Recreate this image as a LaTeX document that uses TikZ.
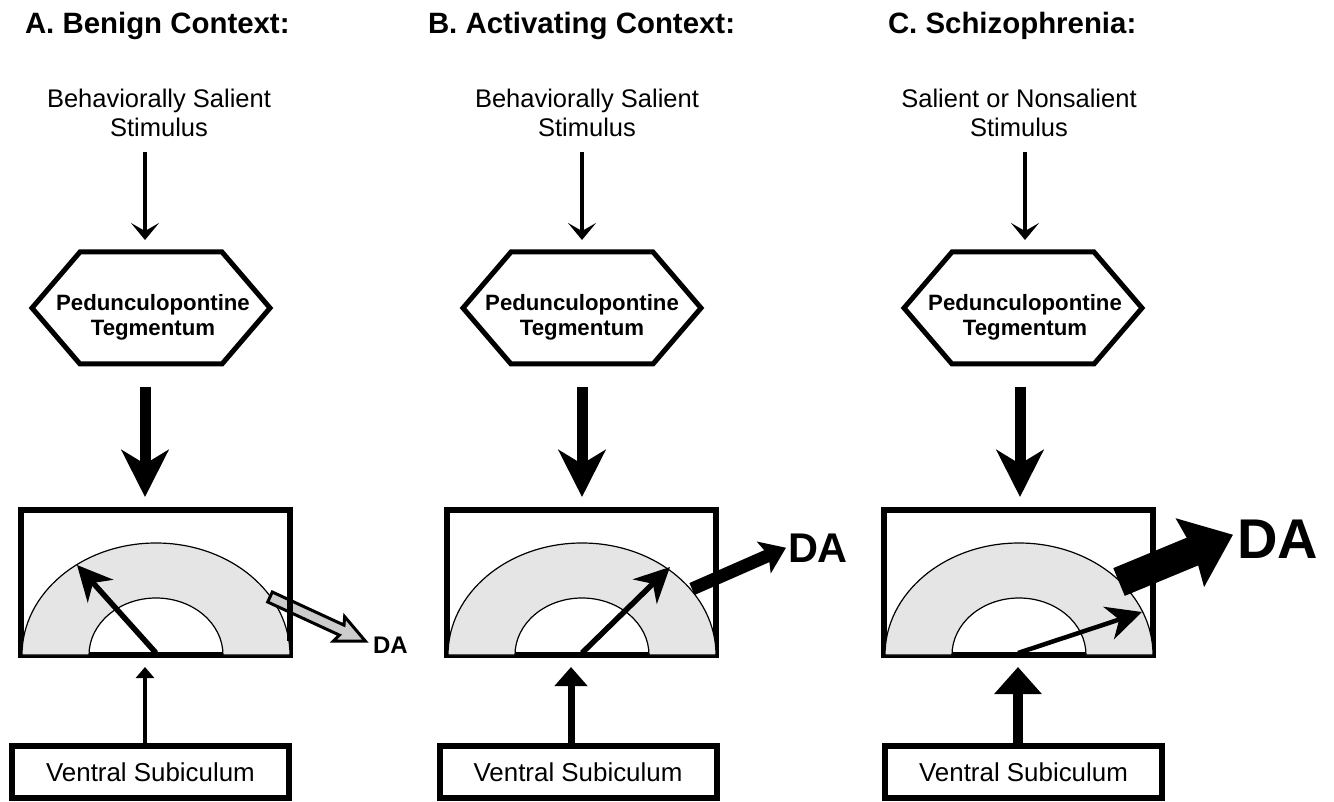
\documentclass[tikz,border=0pt]{standalone}
\usepackage{fontspec}
\setmainfont{Liberation Sans}
\usetikzlibrary{arrows.meta,calc}

\begin{document}
\begin{tikzpicture}[x=1pt,y=-1pt,
  every node/.style={inner sep=0pt, outer sep=0pt},
  title/.style={font=\bfseries\fontsize{29.4}{33}\selectfont, anchor=base west},
  stim/.style={font=\fontsize{25.5}{28.5}\selectfont, align=center},
  ppttext/.style={font=\bfseries\fontsize{22.2}{25}\selectfont, align=center},
  hexbox/.style={minimum width=238pt, minimum height=112pt},
  hexline/.style={line width=5pt, line join=miter},
  gaugebox/.style={draw, line width=6pt, minimum width=269pt, minimum height=145pt},
  vsbox/.style={draw, line width=6pt, minimum width=277pt, minimum height=52pt, font=\fontsize{25.9}{28}\selectfont},
  annulus/.style={fill=gray!20, draw=black, line width=1.2pt},
  thinarrow/.style={line width=4.3pt, -{Stealth[length=17pt,width=28pt,inset=8pt]}},
  thickarrow/.style={line width=11pt, -{Stealth[length=47pt,width=47pt,inset=14pt]}},
  needle/.style={line width=#1, -{Stealth[length=35pt,width=34pt,inset=11pt]}},
  dafont/.style={font=\bfseries\fontsize{#1}{#1}\selectfont, anchor=base west},
  vsarrowA/.style={line width=4pt, -{Triangle[length=11pt,width=18pt]}},
  vsarrowB/.style={line width=7pt, -{Triangle[length=19pt,width=32pt]}},
  vsarrowC/.style={line width=10pt, -{Triangle[length=27pt,width=46pt]}},
]
\path[use as bounding box] (0,0) rectangle (1334,802);

% ---------------- Panel A ----------------
\coordinate (xA) at (145,0);
\node[title] (tA) at (25,34) {A. Benign Context:};
\node[stim] (sA) at (159,113) {Behaviorally Salient\\Stimulus};
\node[hexbox] (pA) at (151,308) {};
\draw[hexline] (pA.west) -- ($(pA.north west)+(48,0)$) -- ($(pA.north east)+(-48,0)$) -- (pA.east) -- ($(pA.south east)+(-48,0)$) -- ($(pA.south west)+(48,0)$) -- cycle;
\node[ppttext] (pAt) at (153,317) {Pedunculopontine\\Tegmentum};
\draw[thinarrow] ([yshift=-15pt]sA.south -| xA) -- ([yshift=12pt]pA.north -| xA);
\node[gaugebox] (gA) at (155.5,582.5) {};
\draw[thickarrow] ([yshift=-23pt]pA.south -| xA) -- ([yshift=13pt]gA.north -| xA);
\draw[annulus] (22,655) arc[start angle=180,end angle=360,x radius=134,y radius=112] -- (223,655) arc[start angle=360,end angle=180,x radius=67,y radius=57] -- cycle;
\coordinate (nA0) at (156,653);
\coordinate (nA1) at (77,565);
\draw[needle=5.5pt] (nA0) -- (nA1);
\node[dafont=24] (daA) at (373,653) {DA};
\coordinate (dsA) at (270,597);
\begin{scope}[shift={(dsA)}, rotate=-24.8]
  \filldraw[fill=gray!40, line width=3pt, line join=miter] (0pt,5.5pt) -- (79pt,5.5pt) -- (76pt,13.5pt) -- (105pt,0pt) -- (76pt,-13.5pt) -- (79pt,-5.5pt) -- (0pt,-5.5pt) -- cycle;
\end{scope}
\draw[line width=6pt] ($(gA.east)+(0,-12)$) -- ($(gA.east)+(0,58)$);
\node[vsbox] (vA) at (150.5,772) {Ventral Subiculum};
\draw[vsarrowA] (vA.north -| xA) -- ([yshift=-12pt]gA.south -| xA);

% ---------------- Panel B ----------------
\coordinate (xB) at (582,0);
\coordinate (xBv) at (571,0);
\node[title] (tB) at (428,34) {B. Activating Context:};
\node[stim] (sB) at (587,113) {Behaviorally Salient\\Stimulus};
\node[hexbox] (pB) at (582,308) {};
\draw[hexline] (pB.west) -- ($(pB.north west)+(48,0)$) -- ($(pB.north east)+(-48,0)$) -- (pB.east) -- ($(pB.south east)+(-48,0)$) -- ($(pB.south west)+(48,0)$) -- cycle;
\node[ppttext] (pBt) at (582,317) {Pedunculopontine\\Tegmentum};
\draw[thinarrow] ([yshift=-15pt]sB.south -| xB) -- ([yshift=12pt]pB.north -| xB);
\node[gaugebox] (gB) at (581.5,582.5) {};
\draw[thickarrow] ([yshift=-23pt]pB.south -| xB) -- ([yshift=13pt]gB.north -| xB);
\draw[annulus] (448,655) arc[start angle=180,end angle=360,x radius=134,y radius=112] -- (649,655) arc[start angle=360,end angle=180,x radius=67,y radius=57] -- cycle;
\coordinate (nB0) at (582,653);
\coordinate (nB1) at (670,567);
\draw[needle=5.5pt] (nB0) -- (nB1);
\node[dafont=41.5] (daB) at (788,562) {DA};
\coordinate (dsB) at (692,589);
\draw[line width=13pt, -{Stealth[length=24pt,width=34pt,inset=5pt]}] (dsB) -- ([xshift=-2pt]daB.west);
\node[vsbox] (vB) at (578,772) {Ventral Subiculum};
\draw[vsarrowB] (vB.north -| xBv) -- ([yshift=-12pt]gB.south -| xBv);

% ---------------- Panel C ----------------
\coordinate (xCt) at (1025,0);
\coordinate (xC) at (1020,0);
\coordinate (xCv) at (1018,0);
\node[title] (tC) at (888,34) {C. Schizophrenia:};
\node[stim] (sC) at (1019,113) {Salient or Nonsalient\\Stimulus};
\node[hexbox] (pC) at (1023,308) {};
\draw[hexline] (pC.west) -- ($(pC.north west)+(48,0)$) -- ($(pC.north east)+(-48,0)$) -- (pC.east) -- ($(pC.south east)+(-48,0)$) -- ($(pC.south west)+(48,0)$) -- cycle;
\node[ppttext] (pCt) at (1025,317) {Pedunculopontine\\Tegmentum};
\draw[thinarrow] ([yshift=-15pt]sC.south -| xCt) -- ([yshift=12pt]pC.north -| xCt);
\node[gaugebox] (gC) at (1018.5,582.5) {};
\draw[thickarrow] ([yshift=-23pt]pC.south -| xC) -- ([yshift=13pt]gC.north -| xC);
\draw[annulus] (885,655) arc[start angle=180,end angle=360,x radius=134,y radius=112] -- (1086,655) arc[start angle=360,end angle=180,x radius=67,y radius=57] -- cycle;
\coordinate (nC0) at (1018,653);
\coordinate (nC1) at (1142,612);
\draw[needle=4.5pt] (nC0) -- (nC1);
\node[dafont=56] (daC) at (1237,558) {DA};
\coordinate (dsC) at (1119,582);
\draw[line width=30pt, -{Stealth[length=46pt,width=72pt,inset=4pt]}] (dsC) -- ([xshift=-4pt,yshift=4pt]daC.west);
\node[vsbox] (vC) at (1023.5,772) {Ventral Subiculum};
\draw[vsarrowC] (vC.north -| xCv) -- ([yshift=-12pt]gC.south -| xCv);

\end{tikzpicture}
\end{document}
